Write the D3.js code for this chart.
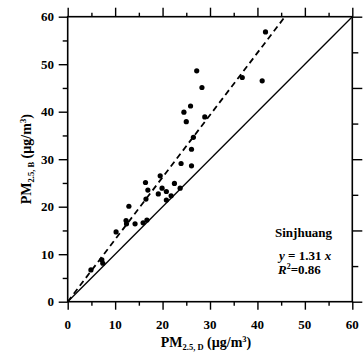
<!DOCTYPE html>
<html><head><meta charset="utf-8">
<script src="https://cdn.jsdelivr.net/npm/d3@7"></script>
<style>
html,body{margin:0;padding:0;background:#fff;}
svg{display:block;}
text{font-family:"Liberation Serif","Times New Roman",serif;font-weight:bold;fill:#000;}
</style></head>
<body><svg id="c" width="363" height="354"></svg>
<script>
// PM2.5 direct (x) vs PM2.5 B (y), Sinjhuang
const pmD = [41.7,27.2,28.3,36.8,41.0,24.5,25.9,28.9,25.0,26.5,26.1,23.9,26.1,16.4,19.5,16.9,19.9,20.8,22.5,23.7,19.1,16.5,20.8,21.8,12.9,12.3,12.4,14.2,15.9,16.7,10.2,4.9,7.2,7.4];
const pmB = [56.8,48.6,45.1,47.2,46.5,39.9,41.2,38.9,37.9,34.6,32.1,29.1,28.6,25.1,26.5,23.5,23.9,23.2,24.9,23.9,22.7,21.6,21.4,22.3,20.1,17.1,16.4,16.4,16.6,17.2,14.7,6.7,8.8,8.1];
const slope = 1.31;
const axisMax = 60;
const majorTicks = [0,10,20,30,40,50,60];
const minorTicks = [5,15,25,35,45,55];
const rightTicks = [0,10,20,30,40,50,60,70,80];

const svg = d3.select("#c");
const L=67.7, R=352.3, T=16.7, B=301.7;
const x = d3.scaleLinear().domain([0,axisMax]).range([L,R]);
const y = d3.scaleLinear().domain([0,axisMax]).range([B,T]);
const yr = d3.scaleLinear().domain([0,80]).range([B,T]);

function ax(gen, tr, ticks, size){
  const g = svg.append("g").attr("transform",tr)
    .call(gen.tickValues(ticks).tickSize(size).tickFormat(""));
  g.select(".domain").remove();
  g.selectAll("line").attr("stroke","#000").attr("stroke-width",1.4);
  return g;
}
ax(d3.axisBottom(x), `translate(0,${B})`, majorTicks, 8);
ax(d3.axisBottom(x), `translate(0,${B})`, minorTicks, 4);
ax(d3.axisTop(x), `translate(0,${T})`, majorTicks, 9);
ax(d3.axisTop(x), `translate(0,${T})`, minorTicks, 4);
ax(d3.axisLeft(y), `translate(${L},0)`, majorTicks, 9);
ax(d3.axisLeft(y), `translate(${L},0)`, minorTicks, 5);
ax(d3.axisRight(yr), `translate(${R},0)`, rightTicks.filter(v=>v%20===0), 10);
ax(d3.axisRight(yr), `translate(${R},0)`, rightTicks.filter(v=>v%20!==0), 6);

svg.append("rect").attr("x",L).attr("y",T).attr("width",R-L).attr("height",B-T)
  .attr("fill","none").attr("stroke","#000").attr("stroke-width",1.6);

svg.append("g").selectAll("text").data(majorTicks).join("text")
  .attr("x",d=>x(d)).attr("y",328.5).attr("text-anchor","middle")
  .attr("font-size",13).text(d=>d);
svg.append("g").selectAll("text").data(majorTicks).join("text")
  .attr("x",54).attr("y",d=>y(d)+4.5).attr("text-anchor","end")
  .attr("font-size",13).text(d=>d);

svg.append("line").attr("x1",x(0)).attr("y1",y(0)).attr("x2",x(axisMax)).attr("y2",y(axisMax))
  .attr("stroke","#000").attr("stroke-width",1.3);
const xe = axisMax/slope;
svg.append("line").attr("x1",x(0)).attr("y1",y(0)).attr("x2",x(xe)).attr("y2",y(slope*xe))
  .attr("stroke","#000").attr("stroke-width",1.8).attr("stroke-dasharray","6,4");

svg.append("g").selectAll("circle").data(pmD).join("circle")
  .attr("cx",d=>x(d)).attr("cy",(d,i)=>y(pmB[i])).attr("r",2.6).attr("fill","#000");

function title(sel, sub){
  sel.append("tspan").text("PM");
  sel.append("tspan").attr("font-size",8.5).attr("dy",3).text(sub);
  sel.append("tspan").attr("dy",-3).text(" (\u00B5g/m");
  sel.append("tspan").attr("font-size",8.5).attr("dy",-5).text("3");
  sel.append("tspan").attr("dy",5).text(")");
}
title(svg.append("text").attr("x",206).attr("y",346.5).attr("text-anchor","middle").attr("font-size",14), "2.5, D");
title(svg.append("text").attr("transform",`translate(31,${(T+B)/2}) rotate(-90)`)
  .attr("text-anchor","middle").attr("font-size",14), "2.5, B");

svg.append("text").attr("x",275).attr("y",237).attr("font-size",13).text("Sinjhuang");
const e1 = svg.append("text").attr("x",279).attr("y",260).attr("font-size",13);
e1.append("tspan").attr("font-style","italic").text("y");
e1.append("tspan").text(" = 1.31 ");
e1.append("tspan").attr("font-style","italic").text("x");
const e2 = svg.append("text").attr("x",278).attr("y",273.5).attr("font-size",13);
e2.append("tspan").attr("font-style","italic").text("R");
e2.append("tspan").attr("font-size",8).attr("dy",-5).text("2");
e2.append("tspan").attr("dy",5).text("=0.86");
</script></body></html>
